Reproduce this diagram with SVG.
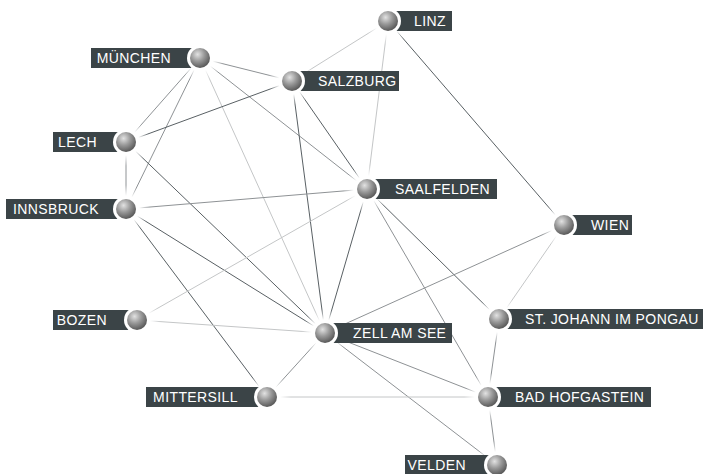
<svg xmlns="http://www.w3.org/2000/svg" width="703" height="474" viewBox="0 0 703 474">
<defs>
<radialGradient id="ball" cx="0.38" cy="0.32" r="0.75">
<stop offset="0" stop-color="#e2e2e2"/>
<stop offset="0.45" stop-color="#9a9a9a"/>
<stop offset="1" stop-color="#4e4e4e"/>
</radialGradient>
<radialGradient id="fade">
<stop offset="0" stop-color="#ffffff" stop-opacity="1"/>
<stop offset="0.55" stop-color="#ffffff" stop-opacity="1"/>
<stop offset="1" stop-color="#ffffff" stop-opacity="0"/>
</radialGradient>
<style>
.lbl{fill:#3b4447}
.halo{fill:#ffffff}
.soft{fill:url(#fade)}
.ball{fill:url(#ball)}
.t{fill:#ffffff;font-family:"Liberation Sans",Arial,sans-serif;font-size:14px;letter-spacing:0.4px}
.r{text-anchor:start}
.l{text-anchor:end}
.c line{stroke-width:1;fill:none}
.d{stroke:#596064}
.m{stroke:#8e9295}
.s{stroke:#c4c6c7}
</style>
</defs>
<rect width="703" height="474" fill="#ffffff"/>
<g id="connectors" class="c">
<line class="m" x1="200" y1="58" x2="292" y2="81"/>
<line class="m" x1="200" y1="58" x2="367" y2="189"/>
<line class="m" x1="200" y1="58" x2="126" y2="142"/>
<line class="m" x1="200" y1="58" x2="126" y2="209"/>
<line class="s" x1="200" y1="58" x2="325" y2="333"/>
<line class="s" x1="388" y1="21" x2="292" y2="81"/>
<line class="s" x1="388" y1="21" x2="367" y2="189"/>
<line class="d" x1="388" y1="21" x2="564" y2="225"/>
<line class="d" x1="292" y1="81" x2="126" y2="142"/>
<line class="d" x1="292" y1="81" x2="367" y2="189"/>
<line class="d" x1="292" y1="81" x2="325" y2="333"/>
<line class="m" x1="126" y1="142" x2="126" y2="209"/>
<line class="d" x1="126" y1="142" x2="325" y2="333"/>
<line class="m" x1="126" y1="209" x2="367" y2="189"/>
<line class="d" x1="126" y1="209" x2="325" y2="333"/>
<line class="d" x1="126" y1="209" x2="267" y2="397"/>
<line class="s" x1="367" y1="189" x2="137" y2="320"/>
<line class="d" x1="367" y1="189" x2="325" y2="333"/>
<line class="d" x1="367" y1="189" x2="499" y2="319"/>
<line class="m" x1="367" y1="189" x2="488" y2="397"/>
<line class="s" x1="137" y1="320" x2="325" y2="333"/>
<line class="m" x1="325" y1="333" x2="564" y2="225"/>
<line class="m" x1="325" y1="333" x2="267" y2="397"/>
<line class="m" x1="325" y1="333" x2="488" y2="397"/>
<line class="m" x1="325" y1="333" x2="497" y2="465"/>
<line class="s" x1="564" y1="225" x2="499" y2="319"/>
<line class="m" x1="499" y1="319" x2="488" y2="397"/>
<line class="s" x1="267" y1="397" x2="488" y2="397"/>
<line class="m" x1="488" y1="397" x2="497" y2="465"/>
</g>
<g id="halos">
<circle class="soft" cx="388" cy="21" r="24"/>
<circle class="soft" cx="200" cy="58" r="24"/>
<circle class="soft" cx="292" cy="81" r="24"/>
<circle class="soft" cx="126" cy="142" r="24"/>
<circle class="soft" cx="367" cy="189" r="24"/>
<circle class="soft" cx="126" cy="209" r="24"/>
<circle class="soft" cx="564" cy="225" r="24"/>
<circle class="soft" cx="137" cy="320" r="24"/>
<circle class="soft" cx="499" cy="319" r="24"/>
<circle class="soft" cx="325" cy="333" r="24"/>
<circle class="soft" cx="267" cy="397" r="24"/>
<circle class="soft" cx="488" cy="397" r="24"/>
<circle class="soft" cx="497" cy="465" r="24"/>
</g>
<g id="linz">
<rect class="lbl" x="388" y="11" width="64" height="20"/>
<circle class="halo" cx="388" cy="21" r="13"/>
<circle class="ball" cx="388" cy="21" r="10"/>
<text class="t r" x="414" y="26">LINZ</text>
</g>
<g id="muenchen">
<rect class="lbl" x="91" y="48" width="109" height="20"/>
<circle class="halo" cx="200" cy="58" r="13"/>
<circle class="ball" cx="200" cy="58" r="10"/>
<text class="t l" x="171" y="63">MÜNCHEN</text>
</g>
<g id="salzburg">
<rect class="lbl" x="292" y="71" width="107" height="20"/>
<circle class="halo" cx="292" cy="81" r="13"/>
<circle class="ball" cx="292" cy="81" r="10"/>
<text class="t r" x="318" y="86">SALZBURG</text>
</g>
<g id="lech">
<rect class="lbl" x="53" y="132" width="73" height="20"/>
<circle class="halo" cx="126" cy="142" r="13"/>
<circle class="ball" cx="126" cy="142" r="10"/>
<text class="t l" x="97" y="147">LECH</text>
</g>
<g id="saalfelden">
<rect class="lbl" x="367" y="179" width="130" height="20"/>
<circle class="halo" cx="367" cy="189" r="13"/>
<circle class="ball" cx="367" cy="189" r="10"/>
<text class="t r" x="395" y="194">SAALFELDEN</text>
</g>
<g id="innsbruck">
<rect class="lbl" x="6" y="199" width="120" height="20"/>
<circle class="halo" cx="126" cy="209" r="13"/>
<circle class="ball" cx="126" cy="209" r="10"/>
<text class="t l" x="99" y="214">INNSBRUCK</text>
</g>
<g id="wien">
<rect class="lbl" x="564" y="215" width="68" height="20"/>
<circle class="halo" cx="564" cy="225" r="13"/>
<circle class="ball" cx="564" cy="225" r="10"/>
<text class="t r" x="591" y="230">WIEN</text>
</g>
<g id="bozen">
<rect class="lbl" x="53" y="310" width="84" height="20"/>
<circle class="halo" cx="137" cy="320" r="13"/>
<circle class="ball" cx="137" cy="320" r="10"/>
<text class="t l" x="107" y="325">BOZEN</text>
</g>
<g id="st-johann">
<rect class="lbl" x="499" y="309" width="204" height="20"/>
<circle class="halo" cx="499" cy="319" r="13"/>
<circle class="ball" cx="499" cy="319" r="10"/>
<text class="t r" x="525" y="324">ST. JOHANN IM PONGAU</text>
</g>
<g id="zell-am-see">
<rect class="lbl" x="325" y="323" width="127" height="20"/>
<circle class="halo" cx="325" cy="333" r="13"/>
<circle class="ball" cx="325" cy="333" r="10"/>
<text class="t r" x="353" y="338">ZELL AM SEE</text>
</g>
<g id="mittersill">
<rect class="lbl" x="146" y="387" width="121" height="20"/>
<circle class="halo" cx="267" cy="397" r="13"/>
<circle class="ball" cx="267" cy="397" r="10"/>
<text class="t l" x="238" y="402">MITTERSILL</text>
</g>
<g id="bad-hofgastein">
<rect class="lbl" x="488" y="387" width="163" height="20"/>
<circle class="halo" cx="488" cy="397" r="13"/>
<circle class="ball" cx="488" cy="397" r="10"/>
<text class="t r" x="515" y="402">BAD HOFGASTEIN</text>
</g>
<g id="velden">
<rect class="lbl" x="405" y="455" width="92" height="20"/>
<circle class="halo" cx="497" cy="465" r="13"/>
<circle class="ball" cx="497" cy="465" r="10"/>
<text class="t l" x="466" y="470">VELDEN</text>
</g>
</svg>
